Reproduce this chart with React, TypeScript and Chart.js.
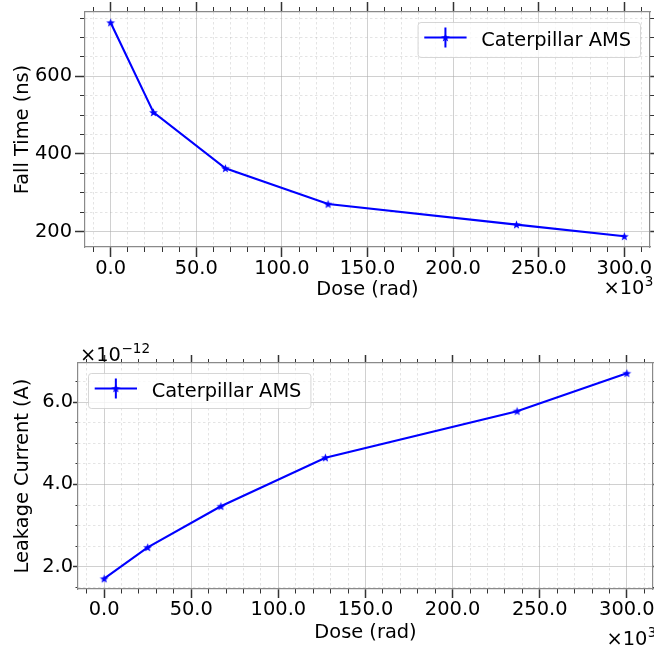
import React, { useEffect, useRef } from "react";
import { Chart, registerables } from "chart.js";

Chart.register(...registerables);

// ---------------- data ----------------
const doseRad = [0, 25000, 67000, 127000, 237000, 300000];
const fallTimeNs = [738, 507, 363, 271, 218, 188];
const leakageA = [1.71e-12, 2.47e-12, 3.47e-12, 4.65e-12, 5.78e-12, 6.7e-12];
const seriesLabel = "Caterpillar AMS";

const doseTitle = "Dose (rad)";
const fallTitle = "Fall Time (ns)";
const leakTitle = "Leakage Current (A)";

const xMajorTicks = [0, 50000, 100000, 150000, 200000, 250000, 300000];
const xMinorTicks = [
  -10000, 10000, 20000, 30000, 40000, 60000, 70000, 80000, 90000, 110000, 120000, 130000, 140000,
  160000, 170000, 180000, 190000, 210000, 220000, 230000, 240000, 260000, 270000, 280000, 290000, 310000,
];
const fallMajorTicks = [200, 400, 600];
const fallMinorTicks = [250, 300, 350, 450, 500, 550, 650, 700, 750];
const leakMajorTicks = [2e-12, 4e-12, 6e-12];
const leakMinorTicks = [1.5e-12, 2.5e-12, 3e-12, 3.5e-12, 4.5e-12, 5e-12, 5.5e-12, 6.5e-12];

// ---------------- style ----------------
const FONT_FAMILY = '"DejaVu Sans", sans-serif';
const FONT_SIZE = 19.4;
const BLUE = "#0000ff";
const SPINE = "#8a8a8a";
const TICK = "#333333";
const MAJOR_GRID = "rgba(170,170,170,0.55)";
const MINOR_GRID = "rgba(170,170,170,0.4)";

function padRange(vals: number[], frac: number): [number, number] {
  const lo = Math.min(...vals);
  const hi = Math.max(...vals);
  const m = (hi - lo) * frac;
  return [lo - m, hi + m];
}

function makeStar(): HTMLCanvasElement {
  const c = document.createElement("canvas");
  c.width = 11;
  c.height = 11;
  const g = c.getContext("2d")!;
  g.fillStyle = BLUE;
  g.beginPath();
  for (let i = 0; i < 10; i++) {
    const r = i % 2 === 0 ? 4.6 : 1.9;
    const a = -Math.PI / 2 + (i * Math.PI) / 5;
    const x = 5.5 + r * Math.cos(a);
    const y = 5.8 + r * Math.sin(a);
    if (i === 0) g.moveTo(x, y);
    else g.lineTo(x, y);
  }
  g.closePath();
  g.fill();
  return c;
}

type SciText = { base: string; exp: string; anchor: "bottomRight" | "topLeft"; dx: number; dy: number };

type PanelSpec = {
  values: number[];
  yTitle: string;
  yMajor: number[];
  yMinor: number[];
  yFmt: (v: number) => string;
  yW: number;
  y2W: number;
  x2H: number;
  xH: number;
  xTL: number;
  x2TL: number;
  yTL: number;
  y2TL: number;
  xTitlePad: number;
  yTitlePad: number;
  yTickPad: number;
  xTickPad: number;
  legendCorner: "ur" | "ul";
  sci: SciText[];
};

const overlayPlugin = {
  id: "overlay",
  afterDraw(chart: any, _args: any, opts: any) {
    const ctx: CanvasRenderingContext2D = chart.ctx;
    const ca = chart.chartArea;
    const font = `${FONT_SIZE}px ${FONT_FAMILY}`;
    // ---- legend ----
    const ds = chart.data.datasets[0];
    ctx.save();
    ctx.font = font;
    const tw = ctx.measureText(ds.label).width;
    const boxW = 63.7 + tw + 9;
    const boxH = 35;
    const pad = 10;
    const bx = opts.legendCorner === "ur" ? ca.right - pad - boxW : ca.left + pad;
    const by = ca.top + pad;
    ctx.beginPath();
    (ctx as any).roundRect(bx + 0.5, by + 0.5, boxW, boxH, 3);
    ctx.fillStyle = "rgba(255,255,255,0.8)";
    ctx.fill();
    ctx.strokeStyle = "rgba(204,204,204,0.8)";
    ctx.lineWidth = 1;
    ctx.stroke();
    const hy = by + 15.5;
    const hx0 = bx + 6.7;
    const hx1 = bx + 49;
    const hxc = (hx0 + hx1) / 2;
    ctx.strokeStyle = ds.borderColor;
    ctx.lineWidth = 2;
    ctx.beginPath();
    ctx.moveTo(hx0, hy);
    ctx.lineTo(hx1, hy);
    ctx.moveTo(hxc, hy - 10);
    ctx.lineTo(hxc, hy + 10);
    ctx.stroke();
    const star = ds.pointStyle as HTMLCanvasElement;
    ctx.drawImage(star, hxc - star.width / 2, hy - star.height / 2);
    ctx.fillStyle = "#000";
    ctx.textBaseline = "alphabetic";
    ctx.textAlign = "left";
    ctx.fillText(ds.label, bx + 63.7, by + 23.7);
    // ---- offset (multiplier) texts ----
    const supFont = `${(FONT_SIZE * 0.7).toFixed(2)}px ${FONT_FAMILY}`;
    for (const s of opts.sci as SciText[]) {
      ctx.font = font;
      const wBase = ctx.measureText(s.base).width;
      ctx.font = supFont;
      const wExp = ctx.measureText(s.exp).width;
      let x0: number;
      let baseline: number;
      if (s.anchor === "bottomRight") {
        x0 = ca.right + s.dx - wBase - wExp;
        baseline = ca.bottom + s.dy;
      } else {
        x0 = ca.left + s.dx;
        baseline = ca.top + s.dy;
      }
      ctx.fillStyle = "#000";
      ctx.font = font;
      ctx.fillText(s.base, x0, baseline);
      ctx.font = supFont;
      ctx.fillText(s.exp, x0 + wBase + 0.5, baseline - 8);
    }
    ctx.restore();
  },
};

function buildConfig(p: PanelSpec, star: HTMLCanvasElement): any {
  const font = { family: FONT_FAMILY, size: FONT_SIZE };
  const [xMin, xMax] = padRange(doseRad, 0.05);
  const [yMin, yMax] = padRange(p.values, 0.05);
  const setTicks = (arr: number[]) => (s: any) => {
    s.ticks = arr.map((v) => ({ value: v }));
  };
  const fix = (size: number, horiz: boolean) => (s: any) => {
    if (horiz) s.height = size;
    else s.width = size;
    s.paddingLeft = 0;
    s.paddingRight = 0;
    s.paddingTop = 0;
    s.paddingBottom = 0;
  };
  const hidden = { display: false };
  const majorGrid = (onArea: boolean, tl: number) => ({
    display: true,
    drawOnChartArea: onArea,
    color: MAJOR_GRID,
    lineWidth: 1,
    drawTicks: true,
    tickLength: tl,
    tickColor: TICK,
    tickWidth: 1.5,
  });
  const minorGrid = (onArea: boolean, tl: number) => ({
    display: true,
    drawOnChartArea: onArea,
    color: MINOR_GRID,
    lineWidth: 0.8,
    drawTicks: true,
    tickLength: tl,
    tickColor: TICK,
    tickWidth: 1,
  });
  const spine = { display: true, color: SPINE, width: 1.2 };
  const xCommon = { type: "linear", min: xMin, max: xMax, bounds: "data" };
  const yCommon = { type: "linear", min: yMin, max: yMax, bounds: "data" };

  return {
    type: "line",
    data: {
      datasets: [
        {
          label: seriesLabel,
          data: doseRad.map((x, i) => ({ x, y: p.values[i] })),
          borderColor: BLUE,
          backgroundColor: BLUE,
          borderWidth: 2.1,
          pointStyle: star,
          pointRadius: 5,
          fill: false,
          tension: 0,
          xAxisID: "x",
          yAxisID: "y",
        },
      ],
    },
    options: {
      responsive: false,
      maintainAspectRatio: false,
      animation: false,
      events: [],
      layout: { padding: 0, autoPadding: false },
      plugins: {
        legend: { display: false },
        tooltip: { enabled: false },
        overlay: { legendCorner: p.legendCorner, sci: p.sci },
      },
      scales: {
        x: {
          ...xCommon,
          position: "bottom",
          weight: 2,
          afterBuildTicks: setTicks(xMajorTicks),
          afterFit: fix(p.xH, true),
          ticks: {
            font,
            color: "#000",
            padding: p.xTickPad,
            autoSkip: false,
            maxRotation: 0,
            callback: (v: number) => (v / 1000).toFixed(1),
          },
          grid: majorGrid(true, p.xTL),
          border: spine,
          title: { display: true, text: doseTitle, font, color: "#000", padding: { top: 0, bottom: p.xTitlePad } },
        },
        xm: {
          ...xCommon,
          position: "bottom",
          weight: 1,
          afterBuildTicks: setTicks(xMinorTicks),
          afterFit: fix(0, true),
          ticks: hidden,
          grid: minorGrid(true, p.xTL / 2),
          border: { display: false, dash: [2.5, 2.5] },
        },
        x2: {
          ...xCommon,
          position: "top",
          weight: 2,
          afterBuildTicks: setTicks(xMajorTicks),
          afterFit: fix(p.x2H, true),
          ticks: hidden,
          grid: majorGrid(false, p.x2TL),
          border: spine,
        },
        x2m: {
          ...xCommon,
          position: "top",
          weight: 1,
          afterBuildTicks: setTicks(xMinorTicks),
          afterFit: fix(0, true),
          ticks: hidden,
          grid: minorGrid(false, p.x2TL / 2),
          border: { display: false },
        },
        y: {
          ...yCommon,
          position: "left",
          weight: 2,
          afterBuildTicks: setTicks(p.yMajor),
          afterFit: fix(p.yW, false),
          ticks: { font, color: "#000", padding: p.yTickPad, autoSkip: false, callback: p.yFmt },
          grid: majorGrid(true, p.yTL),
          border: spine,
          title: { display: true, text: p.yTitle, font, color: "#000", padding: { top: p.yTitlePad, bottom: 0 } },
        },
        ym: {
          ...yCommon,
          position: "left",
          weight: 1,
          afterBuildTicks: setTicks(p.yMinor),
          afterFit: fix(0, false),
          ticks: hidden,
          grid: minorGrid(true, p.yTL / 2),
          border: { display: false, dash: [2.5, 2.5] },
        },
        y2: {
          ...yCommon,
          position: "right",
          weight: 2,
          afterBuildTicks: setTicks(p.yMajor),
          afterFit: fix(p.y2W, false),
          ticks: hidden,
          grid: majorGrid(false, p.y2TL),
          border: spine,
        },
        y2m: {
          ...yCommon,
          position: "right",
          weight: 1,
          afterBuildTicks: setTicks(p.yMinor),
          afterFit: fix(0, false),
          ticks: hidden,
          grid: minorGrid(false, p.y2TL / 2),
          border: { display: false },
        },
      },
    },
    plugins: [overlayPlugin],
  };
}

const topSpec: PanelSpec = {
  values: fallTimeNs,
  yTitle: fallTitle,
  yMajor: fallMajorTicks,
  yMinor: fallMinorTicks,
  yFmt: (v: number) => String(Math.round(v)),
  yW: 85,
  y2W: 4,
  x2H: 12,
  xH: 77,
  xTL: 10,
  x2TL: 10,
  yTL: 10,
  y2TL: 10,
  xTitlePad: 22,
  yTitlePad: 10.9,
  yTickPad: 3,
  xTickPad: 0,
  legendCorner: "ur",
  sci: [{ base: "×10", exp: "3", anchor: "bottomRight", dx: 3, dy: 47 }],
};

const bottomSpec: PanelSpec = {
  values: leakageA,
  yTitle: leakTitle,
  yMajor: leakMajorTicks,
  yMinor: leakMinorTicks,
  yFmt: (v: number) => (v / 1e-12).toFixed(1),
  yW: 78,
  y2W: 1,
  x2H: 39,
  xH: 59,
  xTL: 9,
  x2TL: 8,
  yTL: 5,
  y2TL: 8,
  xTitlePad: 3,
  yTitlePad: 11.4,
  yTickPad: 0,
  xTickPad: 0,
  legendCorner: "ul",
  sci: [
    { base: "×10", exp: "3", anchor: "bottomRight", dx: 3, dy: 55.7 },
    { base: "×10", exp: "−12", anchor: "topLeft", dx: 2, dy: -2 },
  ],
};

function Panel({ spec, top }: { spec: PanelSpec; top: number }) {
  const ref = useRef<HTMLCanvasElement | null>(null);
  useEffect(() => {
    const star = makeStar();
    const chart = new Chart(ref.current as HTMLCanvasElement, buildConfig(spec, star));
    return () => chart.destroy();
  }, [spec]);
  return (
    <canvas
      ref={ref}
      width={654}
      height={324}
      style={{ position: "absolute", left: 0, top, width: 654, height: 324 }}
    />
  );
}

export default function App() {
  return (
    <div style={{ position: "fixed", left: 0, top: 0, width: 654, height: 648, background: "#fff" }}>
      <Panel spec={topSpec} top={0} />
      <Panel spec={bottomSpec} top={324} />
    </div>
  );
}
